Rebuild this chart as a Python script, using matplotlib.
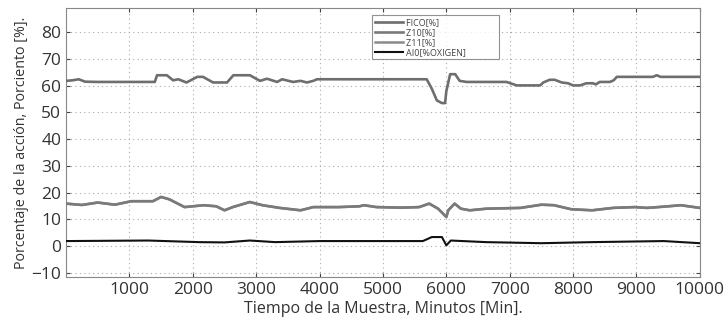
import matplotlib
matplotlib.use("Agg")
import matplotlib.pyplot as plt

plt.rcParams['font.family'] = ['Open Sans', 'DejaVu Sans']

# FICO [%]
fico_t = [0, 100, 200, 300, 500, 1000, 1400, 1435, 1590, 1690, 1770, 1900, 2070, 2160, 2320, 2540,
          2640, 2900, 2930, 3060, 3170, 3330, 3410, 3580, 3700, 3800, 3900, 3960, 5000, 5690, 5770,
          5850, 5930, 5980, 6000, 6060, 6140, 6210, 6320, 6950, 7110, 7480, 7530, 7630, 7710, 7820,
          7920, 8000, 8110, 8210, 8310, 8360, 8420, 8580, 8640, 8690, 9260, 9320, 9380, 10000]
fico_v = [61.8, 62.0, 62.4, 61.5, 61.4, 61.4, 61.4, 63.9, 63.9, 62.0, 62.4, 61.2, 63.3, 63.3, 61.2, 61.2,
          63.9, 63.9, 63.5, 61.8, 62.6, 61.4, 62.4, 61.4, 61.8, 61.2, 61.8, 62.4, 62.4, 62.4, 58.9,
          54.5, 53.5, 53.5, 58.0, 64.3, 64.3, 61.8, 61.4, 61.4, 60.1, 60.1, 61.2, 62.2, 62.2, 61.2,
          60.9, 60.1, 60.1, 60.9, 60.9, 60.5, 61.4, 61.4, 62.0, 63.3, 63.3, 63.9, 63.3, 63.3]

# Z10 [%] / Z11 [%]
z10_t = [0, 250, 500, 770, 970, 1030, 1370, 1500, 1630, 1870, 2170, 2370, 2500, 2630, 2900, 3100, 3370,
         3700, 3900, 4300, 4630, 4700, 4900, 5300, 5570, 5730, 5870, 6000, 6030, 6130, 6230, 6370, 6630,
         7170, 7500, 7700, 7970, 8300, 8630, 8970, 9170, 9450, 9700, 10000]
z10_v = [15.9, 15.4, 16.3, 15.5, 16.5, 16.8, 16.8, 18.4, 17.5, 14.6, 15.3, 14.9, 13.4, 14.6, 16.5, 15.3, 14.3,
         13.4, 14.6, 14.6, 14.9, 15.3, 14.6, 14.4, 14.6, 15.9, 14.0, 10.9, 13.4, 15.9, 14.0, 13.4, 14.0,
         14.3, 15.5, 15.3, 13.8, 13.4, 14.3, 14.6, 14.3, 14.8, 15.3, 14.3]
z11_t = z10_t
z11_v = z10_v

# AI0 [%OXIGEN]
ai0_t = [0, 1300, 2100, 2500, 2900, 3300, 4000, 5630, 5770, 5930, 6000, 6070, 6630, 7500, 8300, 9430, 10000]
ai0_v = [1.9, 2.1, 1.5, 1.4, 2.1, 1.5, 1.9, 1.9, 3.4, 3.4, 0.3, 2.1, 1.5, 1.1, 1.5, 1.9, 1.1]

xticks = [1000, 2000, 3000, 4000, 5000, 6000, 7000, 8000, 9000, 10000]
yticks = [-10, 0, 10, 20, 30, 40, 50, 60, 70, 80]

fig = plt.figure(figsize=(7.26, 3.25), dpi=100)
ax = fig.add_axes([0.091, 0.148, 0.873, 0.827])

ax.plot(z11_t, z11_v, color='#8a8a8a', lw=1.8, label='Z11[%]', zorder=2)
ax.plot(fico_t, fico_v, color='#6e6e6e', lw=1.9, label='FICO[%]', zorder=3)
ax.plot(z10_t, z10_v, color='#7a7a7a', lw=1.9, label='Z10[%]', zorder=3)
ax.plot(ai0_t, ai0_v, color='#111111', lw=1.5, label='AI0[%OXIGEN]', zorder=4)

ax.set_xlim(0, 10000)
ax.set_ylim(-11.5, 89)
ax.set_xticks(xticks)
ax.set_yticks(yticks)
ax.set_yticklabels(['\u221210' if v < 0 else str(v) for v in yticks])
ax.tick_params(direction='in', top=True, right=True, length=3, labelsize=12.5,
               colors='#444444', labelcolor='#333333')
ax.grid(True, linestyle=(0, (1, 3)), color='#aaaaaa', lw=0.8)
for s in ax.spines.values():
    s.set_color('#888888')
    s.set_linewidth(0.8)

ax.set_xlabel('Tiempo de la Muestra, Minutos [Min].', fontsize=11.5, color='#333333', labelpad=2)
ax.set_ylabel('Porcentaje de la acción, Porciento [%].', fontsize=10.3, color='#333333', labelpad=2)

h, l = ax.get_legend_handles_labels()
order = [1, 2, 0, 3]
labels = [l[i] + '\u2007' * 6 for i in order]
leg = ax.legend([h[i] for i in order], labels, loc='upper left',
                bbox_to_anchor=(0.476, 0.99), fontsize=6.5, frameon=True, fancybox=False,
                handlelength=3.1, labelspacing=0.1, borderpad=0.3, handletextpad=0.3)
leg.get_frame().set_edgecolor('#777777')
leg.get_frame().set_linewidth(0.8)
for t in leg.get_texts():
    t.set_color('#444444')

fig.savefig('out.png', dpi=100)
